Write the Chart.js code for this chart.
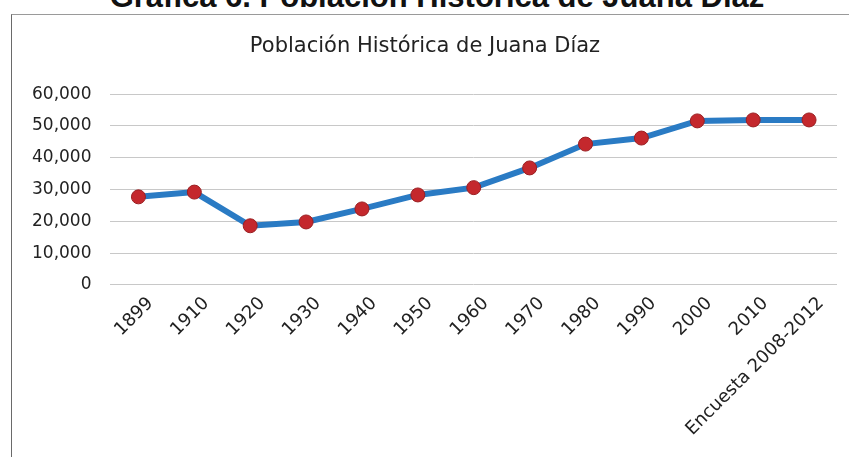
<!DOCTYPE html>
<html>
<head>
<meta charset="utf-8">
<script src="https://cdn.jsdelivr.net/npm/chart.js@4/dist/chart.umd.min.js"></script>
<style>
  html, body { margin: 0; padding: 0; background: #fff; overflow: hidden; }
  body { width: 849px; height: 457px; position: relative; font-family: "Liberation Sans", Arial, sans-serif; }
  #doctitle { position: absolute; left: 0; width: 874px; top: -21px; text-align: center; font-weight: bold; font-size: 31px; color: #111; white-space: nowrap; }
  #frame { position: absolute; left: 11px; top: 14px; width: 860px; height: 460px; border-left: 1px solid #6a6a6a; border-top: 1px solid #9a9a9a; }
  #wrap { position: absolute; left: 0; top: 0; width: 849px; height: 457px; }
</style>
</head>
<body>
<div id="doctitle">Gráfica 6.  Población Histórica de Juana Díaz</div>
<div id="frame"></div>
<div id="wrap"><canvas id="c" width="849" height="457"></canvas></div>
<script>
const chartTitle = "Población Histórica de Juana Díaz";
const categories = ["1899", "1910", "1920", "1930", "1940", "1950", "1960", "1970", "1980", "1990", "2000", "2010", "Encuesta 2008-2012"];
const population = [27700, 29200, 18600, 19800, 23900, 28300, 30600, 36800, 44300, 46200, 51600, 51900, 51900];
const yTicks = [0, 10000, 20000, 30000, 40000, 50000, 60000];

const FONT = '"DejaVu Sans", "Liberation Sans", Arial, sans-serif';

new Chart(document.getElementById('c'), {
  type: 'line',
  data: {
    labels: categories,
    datasets: [{
      label: 'Población',
      data: population,
      borderColor: '#2a7bc4',
      borderWidth: 6,
      pointRadius: 7,
      pointHoverRadius: 7,
      pointBackgroundColor: '#c4282d',
      pointBorderColor: '#9a1f22',
      pointBorderWidth: 1,
      tension: 0,
      fill: false
    }]
  },
  options: {
    responsive: false,
    animation: false,
    devicePixelRatio: 1,
    layout: { padding: { left: 13, right: 12, top: 0, bottom: 9 } },
    plugins: {
      legend: { display: false },
      tooltip: { enabled: false },
      title: {
        display: true,
        text: chartTitle,
        color: '#222',
        font: { family: FONT, size: 21, weight: 'normal' },
        padding: { top: 34, bottom: 35 }
      }
    },
    scales: {
      x: {
        type: 'category',
        offset: true,
        grid: { display: false, drawTicks: false },
        border: { display: false },
        ticks: {
          color: '#222',
          font: { family: FONT, size: 18 },
          maxRotation: 45,
          minRotation: 45,
          padding: 8,
          labelOffset: 12,
          autoSkip: false
        }
      },
      y: {
        min: 0,
        max: 60000,
        afterBuildTicks: (axis) => { axis.ticks = yTicks.map(v => ({ value: v })); },
        grid: { color: '#c8c8c8', lineWidth: 1, drawTicks: false },
        border: { display: false },
        ticks: {
          color: '#222',
          font: { family: FONT, size: 17 },
          padding: 19,
          callback: (v) => v.toLocaleString('en-US')
        }
      }
    }
  }
});
</script>
</body>
</html>
